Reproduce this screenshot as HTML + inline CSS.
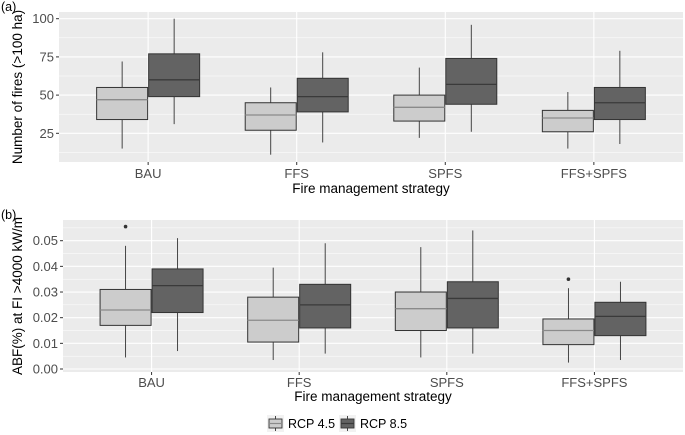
<!DOCTYPE html>
<html><head><meta charset="utf-8">
<style>
body{margin:0;background:#fff;}
svg{display:block;font-family:"Liberation Sans",sans-serif;}
</style></head>
<body>
<svg id="chart" width="685" height="435"></svg>
<script>
const categories=["BAU","FFS","SPFS","FFS+SPFS"];
const seriesNames=["RCP 4.5","RCP 8.5"];
// panel a: [min,q1,median,q3,max]
const firesRcp45=[[15,34,47,55,72],[11,27,37,45,55],[22,33,42,50,68],[15,26,35,40,52]];
const firesRcp85=[[31,49,60,77,100],[19,39,49,61,78],[26,44,57,74,96],[18,34,45,55,79]];
const firesTicks=[25,50,75,100];
// panel b
const abfRcp45=[[0.0045,0.017,0.023,0.031,0.048],[0.0035,0.0105,0.019,0.028,0.0395],[0.0045,0.015,0.0235,0.030,0.0475],[0.0025,0.0095,0.015,0.0195,0.0315]];
const abfRcp85=[[0.007,0.022,0.0325,0.039,0.051],[0.006,0.016,0.025,0.033,0.049],[0.006,0.016,0.0275,0.034,0.054],[0.0035,0.013,0.0205,0.026,0.034]];
const abfOutliers45=[[0.0555],[],[],[0.035]];
const abfOutliers85=[[],[],[],[]];
const abfTicks=[0,0.01,0.02,0.03,0.04,0.05];

const NS="http://www.w3.org/2000/svg";
const svg=document.getElementById('chart');
function mk(tag,attrs,parent,name){const e=document.createElementNS(NS,tag);for(const k in attrs)e.setAttribute(k,attrs[k]);


(parent||svg).appendChild(e);return e;}
const fills=["#cccccc","#636363"];
const medCols=["#8a8a8a","#3a3a3a"];

function panel(cfg){
  const {L,top,bottom,v0,y0,v1,y1,ticks,fmt,s1,s2,o1,o2,label,ytitle,tag,ytx,lblOff,titleOff}=cfg;
  const R=683;
  const step=(R-L)/4.2;
  const y=v=>y0+(v-v0)*(y1-y0)/(v1-v0);
  const x=i=>L+(0.6+i)*step;
  const g=mk('g',{},svg,tag+'-panel');
  mk('rect',{x:L,y:top,width:R-L,height:bottom-top,fill:'#ebebeb'},g,tag+'-plot-background');
  const ext=(ticks[1]-ticks[0])/2;
  const minors=[ticks[0]-ext];
  for(let i=0;i<ticks.length;i++)minors.push(ticks[i]+ext);
  minors.forEach(m=>{const yy=y(m);if(yy>top&&yy<bottom)
    mk('line',{x1:L,x2:R,y1:yy,y2:yy,stroke:'#fff','stroke-width':0.5},g,tag+'-minor-gridline');});
  ticks.forEach(t=>{
    mk('line',{x1:L,x2:R,y1:y(t),y2:y(t),stroke:'#fff','stroke-width':1.1},g,tag+'-gridline');
    mk('line',{x1:L-3,x2:L,y1:y(t),y2:y(t),stroke:'#333','stroke-width':1},g,tag+'-y-tick');
    const tx=mk('text',{x:L-5,y:y(t)+4.5,'text-anchor':'end','font-size':13,fill:'#4d4d4d'},g,tag+'-y-tick-label');tx.textContent=fmt(t);
  });
  categories.forEach((c,i)=>{
    mk('line',{x1:x(i),x2:x(i),y1:top,y2:bottom,stroke:'#fff','stroke-width':1.1},g,tag+'-x-gridline');
    mk('line',{x1:x(i),x2:x(i),y1:bottom,y2:bottom+3,stroke:'#333','stroke-width':1},g,tag+'-x-tick');
    const tx=mk('text',{x:x(i),y:bottom+lblOff,'text-anchor':'middle','font-size':13,fill:'#4d4d4d'},g,tag+'-x-tick-label');tx.textContent=c;
  });
  [s1,s2].forEach((s,k)=>{
    s.forEach((d,i)=>{
      const cx=x(i)+(k?26:-26),w=51;
      mk('line',{x1:cx,x2:cx,y1:y(d[0]),y2:y(d[1]),stroke:'#333','stroke-width':0.9},g,tag+'-whisker');
      mk('line',{x1:cx,x2:cx,y1:y(d[3]),y2:y(d[4]),stroke:'#333','stroke-width':0.9},g,tag+'-whisker');
      mk('rect',{x:cx-w/2,y:y(d[3]),width:w,height:y(d[1])-y(d[3]),fill:fills[k],stroke:'#333','stroke-width':1},g,tag+'-box-'+(k?'rcp85':'rcp45'));
      mk('line',{x1:cx-w/2,x2:cx+w/2,y1:y(d[2]),y2:y(d[2]),stroke:medCols[k],'stroke-width':1.3},g,tag+'-median');
      const os=(k?o2:o1);
      if(os)(os[i]||[]).forEach(o=>mk('circle',{cx:cx,cy:y(o),r:1.8,fill:'#333'},g,tag+'-outlier'));
    });
  });
  const lb=mk('text',{x:1,y:top-1,'font-size':12.5,fill:'#000'},g,tag+'-panel-label');lb.textContent=label;
  const xt=mk('text',{x:(L+R)/2,y:bottom+titleOff,'text-anchor':'middle','font-size':13.5,fill:'#000'},g,tag+'-x-axis-title');xt.textContent='Fire management strategy';
  const cy=(top+bottom)/2;
  const yt=mk('text',{x:0,y:0,transform:`translate(${ytx},${cy}) rotate(-90)`,'text-anchor':'middle','font-size':13.5,fill:'#000'},g,tag+'-y-axis-title');yt.textContent=ytitle;
}
panel({L:59,top:12,bottom:162,v0:100,y0:18.7,v1:25,y1:133.3,ticks:firesTicks,fmt:t=>String(t),s1:firesRcp45,s2:firesRcp85,label:'(a)',ytitle:'Number of fires (>100 ha)',tag:'fires',ytx:22,lblOff:16,titleOff:31});
panel({L:63,top:220,bottom:372,v0:0,y0:369,v1:0.05,y1:240.7,ticks:abfTicks,fmt:t=>t.toFixed(2),s1:abfRcp45,s2:abfRcp85,o1:abfOutliers45,o2:abfOutliers85,label:'(b)',ytitle:'ABF(%) at FI >4000 kW/m',tag:'abf',ytx:22,lblOff:15,titleOff:29});
// legend
const lg=mk('g',{},svg,'legend');
seriesNames.forEach((n,k)=>{
  const lx=267+k*72;
  const e=mk('g',{},lg,'legend-entry');
  mk('rect',{x:lx,y:415,width:17,height:17,fill:'#f2f2f2'},e,'legend-key-background');
  mk('line',{x1:lx+8.5,x2:lx+8.5,y1:416,y2:431,stroke:'#333','stroke-width':0.9},e,'legend-key-whisker');
  mk('rect',{x:lx+2,y:419,width:13,height:9,fill:fills[k],stroke:'#333','stroke-width':0.9},e,'legend-key-box');
  mk('line',{x1:lx+2,x2:lx+15,y1:423.5,y2:423.5,stroke:medCols[k],'stroke-width':1.2},e,'legend-key-median');
  const t=mk('text',{x:lx+21,y:428,'font-size':12.5,fill:'#000'},e,'legend-label');t.textContent=n;
});
</script>
</body></html>
